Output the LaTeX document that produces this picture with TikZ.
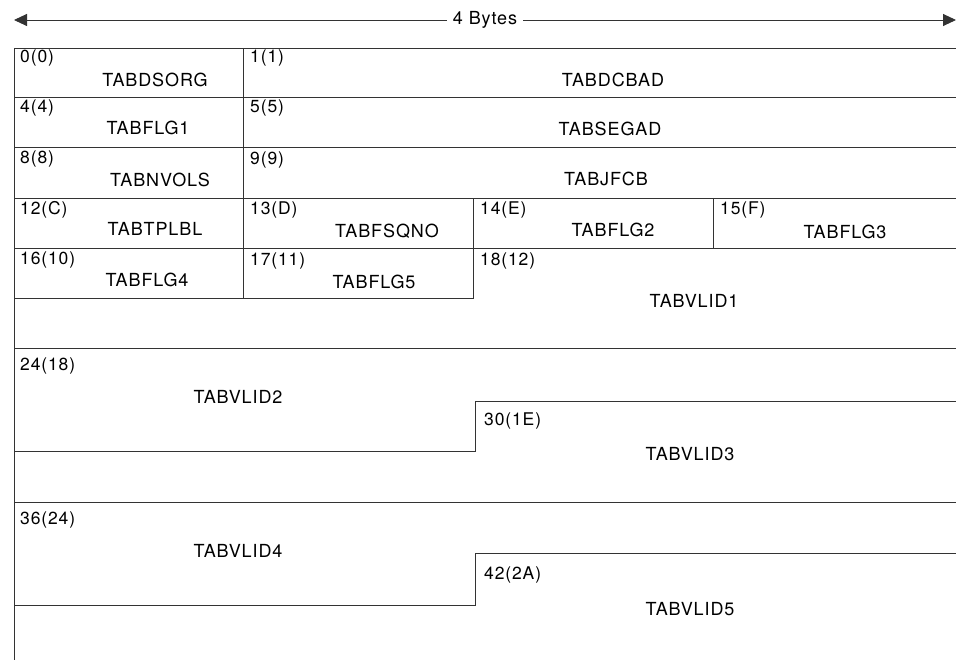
\documentclass[tikz,border=0pt]{standalone}
\usepackage{fontspec}
\setmainfont{TeX Gyre Heros}[LetterSpace=5]
\usetikzlibrary{arrows.meta}
\begin{document}
\begin{tikzpicture}[x=1pt,y=-1pt,
  rule/.style={line width=0.9pt,draw=black!80},
  off/.style={anchor=west,inner sep=0pt,font=\fontsize{17.5}{17.5}\selectfont},
  fld/.style={inner sep=0pt,font=\fontsize{18}{18}\selectfont},
  tip/.style={-{Triangle[length=13pt,width=12pt]}}]
\useasboundingbox (0,0) rectangle (956,660);
% width arrow
\node[fld,fill=white,inner xsep=6pt] (bytes) at (485,20) {4 Bytes};
\coordinate (aL) at (14,20);
\coordinate (aR) at (956,20);
\draw[rule,tip] (bytes) -- (aL);
\draw[rule,tip] (bytes) -- (aR);
% horizontal rules
\draw[rule] (14,48) -- (956,48);
\draw[rule] (14,97) -- (956,97);
\draw[rule] (14,147) -- (956,147);
\draw[rule] (14,198) -- (956,198);
\draw[rule] (14,248) -- (956,248);
\draw[rule] (14,298) -- (473,298) -- (473,198);
\draw[rule] (14,348) -- (956,348);
\draw[rule] (14,451) -- (475,451) -- (475,401) -- (956,401);
\draw[rule] (14,502) -- (956,502);
\draw[rule] (14,605) -- (475,605) -- (475,553) -- (956,553);
% vertical rules
\draw[rule] (14,48) -- (14,660);
\draw[rule] (243,48) -- (243,298);
\draw[rule] (713,198) -- (713,248);
% row 1
\node[off] (o0) at (20,58) {0(0)};
\node[fld] (f0) at (155,80) {TABDSORG};
\node[off] (o1) at (250,58) {1(1)};
\node[fld] (f1) at (613,80) {TABDCBAD};
% row 2
\node[off] (o4) at (20,108) {4(4)};
\node[fld] (f4) at (148,128) {TABFLG1};
\node[off] (o5) at (250,108) {5(5)};
\node[fld] (f5) at (610,129) {TABSEGAD};
% row 3
\node[off] (o8) at (20,159) {8(8)};
\node[fld] (f8) at (160,180) {TABNVOLS};
\node[off] (o9) at (250,160) {9(9)};
\node[fld] (f9) at (606,179) {TABJFCB};
% row 4
\node[off] (o12) at (20,210) {12(C)};
\node[fld] (f12) at (155,229) {TABTPLBL};
\node[off] (o13) at (250,210) {13(D)};
\node[fld] (f13) at (387,231) {TABFSQNO};
\node[off] (o14) at (480,210) {14(E)};
\node[fld] (f14) at (613,230) {TABFLG2};
\node[off] (o15) at (720,210) {15(F)};
\node[fld] (f15) at (845,232) {TABFLG3};
% row 5
\node[off] (o16) at (20,260) {16(10)};
\node[fld] (f16) at (147,280) {TABFLG4};
\node[off] (o17) at (250,261) {17(11)};
\node[fld] (f17) at (374,282) {TABFLG5};
\node[off] (o18) at (480,261) {18(12)};
\node[fld] (f18) at (694,301) {TABVLID1};
% VLIDs
\node[off] (o24) at (20,366) {24(18)};
\node[fld] (f24) at (238,397) {TABVLID2};
\node[off] (o30) at (484,421) {30(1E)};
\node[fld] (f30) at (690,454) {TABVLID3};
\node[off] (o36) at (20,520) {36(24)};
\node[fld] (f36) at (238,551) {TABVLID4};
\node[off] (o42) at (484,575) {42(2A)};
\node[fld] (f42) at (690,609) {TABVLID5};
\end{tikzpicture}
\end{document}
